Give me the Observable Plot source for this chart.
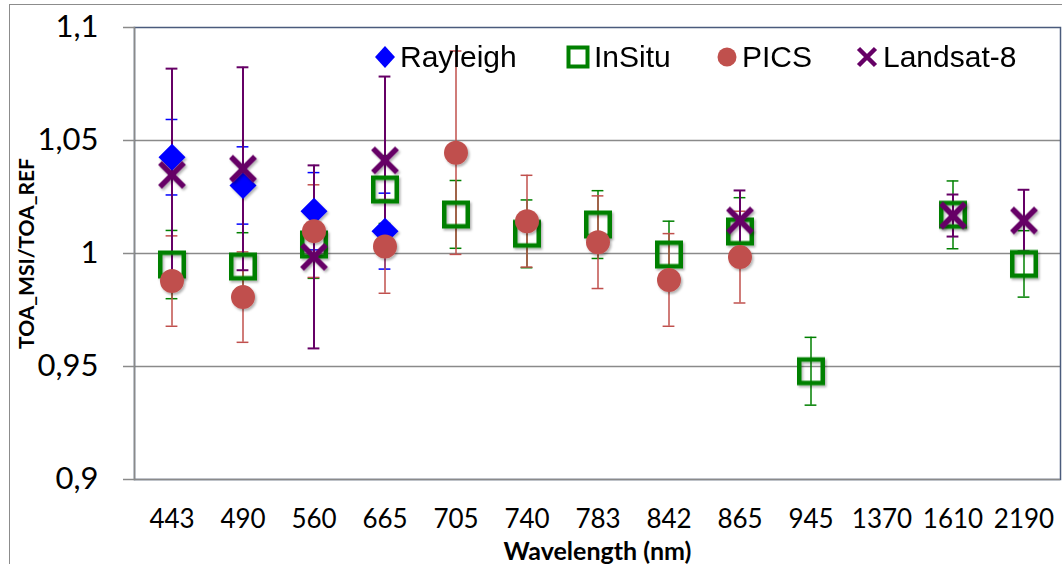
<!DOCTYPE html>
<html><head><meta charset="utf-8">
<script src="https://cdn.jsdelivr.net/npm/d3@7"></script>
<script src="https://cdn.jsdelivr.net/npm/@observablehq/plot@0.6"></script>
<style>
body{margin:0;background:#fff;}
#wrap{position:relative;width:1062px;height:564px;overflow:hidden;background:#fff;}
#border{position:absolute;left:9px;top:4px;width:2000px;height:2000px;border-left:1px solid #8c8c8c;border-top:1px solid #8c8c8c;pointer-events:none;}
#legend{position:absolute;top:0;left:0;font-family:"Liberation Sans",Arial,sans-serif;font-size:30px;color:#000;}
.item{position:absolute;top:40px;height:34px;line-height:34px;display:flex;align-items:center;white-space:nowrap;}
.item svg{margin-right:4px;}
g[aria-label="y-axis label"] text, g[aria-label="x-axis label"] text{font-weight:bold;}
g[aria-label="y-axis label"] text{font-size:21px;}
g[aria-label="x-axis label"] text{font-size:25px;}
</style></head>
<body>
<div id="wrap"><div id="chart"></div><div id="border"></div><div id="legend"></div></div>
<script>
const categories = ["443","490","560","665","705","740","783","842","865","945","1370","1610","2190"];
const yTicks = [0.9, 0.95, 1, 1.05, 1.1];

const rayleighBands = ["443","490","560","665"];
const rayleighValues = [1.0426, 1.0301, 1.0187, 1.0099];
const rayleighErrors = [0.0167, 0.0171, 0.0171, 0.0168];

const insituBands = ["443","490","560","665","705","740","783","842","865","945","1610","2190"];
const insituValues = [0.9951, 0.9942, 1.0040, 1.0283, 1.0173, 1.0087, 1.0128, 0.9996, 1.0097, 0.9479, 1.0171, 0.9954];
const insituErrors = [0.0151, 0.0150, 0.0150, 0.0150, 0.0150, 0.0150, 0.0150, 0.0147, 0.0150, 0.0150, 0.0150, 0.0147];

const picsBands = ["443","490","560","665","705","740","783","842","865"];
const picsValues = [0.9878, 0.9807, 1.0099, 1.0031, 1.0446, 1.0143, 1.0050, 0.9883, 0.9984];
const picsErrors = [0.0200, 0.0200, 0.0205, 0.0207, 0.0450, 0.0203, 0.0205, 0.0205, 0.0203];

const landsatBands = ["443","490","560","665","865","1610","2190"];
const landsatValues = [1.0348, 1.0375, 0.9985, 1.0412, 1.0146, 1.0168, 1.0146];
const landsatErrors = [0.0470, 0.0449, 0.0405, 0.0371, 0.0133, 0.0093, 0.0136];

const series = [
  {name:"Rayleigh", color:"#0000ff", ew:1.5, bands:rayleighBands, values:rayleighValues, errors:rayleighErrors},
  {name:"InSitu", color:"#008000", ew:1.5, bands:insituBands, values:insituValues, errors:insituErrors},
  {name:"PICS", color:"#c0504d", ew:1.5, bands:picsBands, values:picsValues, errors:picsErrors},
  {name:"Landsat-8", color:"#660066", ew:2, bands:landsatBands, values:landsatValues, errors:landsatErrors}
];
const rows = series.map(s => s.bands.map((b, i) => ({band:b, value:s.values[i], err:s.errors[i]})));

const fmt = d => String(d).replace(".", ",");
const capInset = 29.6;

const errMarks = series.flatMap((s, k) => [
  Plot.ruleX(rows[k], {x:"band", y1:d => d.value - d.err, y2:d => d.value + d.err, stroke:s.color, strokeWidth:s.ew}),
  Plot.tickY(rows[k], {x:"band", y:d => d.value + d.err, stroke:s.color, strokeWidth:s.ew, inset:capInset}),
  Plot.tickY(rows[k], {x:"band", y:d => d.value - d.err, stroke:s.color, strokeWidth:s.ew, inset:capInset})
]);

const dotMarks = [
  Plot.dot(rows[0], {x:"band", y:"value", symbol:"diamond2", r:12.16, fill:series[0].color, stroke:"none"}),
  Plot.dot(rows[1], {x:"band", y:"value", symbol:"square", r:13.26, fill:"none", stroke:series[1].color, strokeWidth:4.5}),
  Plot.dot(rows[2], {x:"band", y:"value", symbol:"circle", r:12, fill:series[2].color, stroke:"none"}),
  Plot.dot(rows[3], {x:"band", y:"value", symbol:"times", r:10.96, fill:"none", stroke:series[3].color, strokeWidth:5.5, strokeLinecap:"butt"})
];

const plot = Plot.plot({
  width: 1062, height: 564,
  marginLeft: 134, marginRight: 2, marginTop: 27, marginBottom: 85,
  x: {type:"band", domain:categories, padding:0},
  y: {domain:[0.9, 1.1]},
  style: {fontFamily:"Lato, sans-serif", background:"transparent", color:"#000"},
  marks: [
    Plot.gridY([0.95, 1, 1.05], {stroke:"#8a8a8a", strokeOpacity:1, strokeWidth:1.5}),
    Plot.frame({stroke:"#4a5b7c", strokeWidth:1.5}),
    Plot.ruleY([0.9], {stroke:"#8a8a8a", strokeWidth:1.5}),
    Plot.frame({anchor:"left", stroke:"#8a8a8a", strokeWidth:1.5}),
    Plot.axisY(yTicks, {tickSize:11, tickPadding:25, tickFormat:fmt, fontSize:31, stroke:"#8a8a8a", strokeWidth:1.5,
      label:"TOA_MSI/TOA_REF", labelAnchor:"center", labelArrow:"none", labelOffset:115}),
    Plot.axisX({tickSize:0, tickPadding:30, fontSize:26,
      label:"Wavelength (nm)", labelAnchor:"center", labelArrow:"none", labelOffset:80}),
    ...errMarks,
    ...dotMarks
  ]
});
document.getElementById("chart").appendChild(plot);

// subtle drop shadow like the original markers
const svg = d3.select(plot);
const defs = svg.insert("defs", ":first-child");
defs.append("filter").attr("id", "shadow").attr("x", "-50%").attr("y", "-50%").attr("width", "200%").attr("height", "200%")
  .append("feDropShadow").attr("dx", 1.5).attr("dy", 2).attr("stdDeviation", 1.2).attr("flood-color", "#000").attr("flood-opacity", 0.3);
svg.selectAll('g[aria-label="dot"]').attr("filter", "url(#shadow)");

// legend
const legend = d3.select("#legend");
const legendLeft = [374, 566, 716, 855];
const glyph = [
  '<svg width="22" height="24" viewBox="-11 -12 22 24"><path d="M0,-11L10,0L0,11L-10,0Z" fill="#0000ff"/></svg>',
  '<svg width="24" height="24" viewBox="-12 -12 24 24"><rect x="-9.5" y="-9.5" width="19" height="19" fill="none" stroke="#008000" stroke-width="4"/></svg>',
  '<svg width="22" height="24" viewBox="-11 -12 22 24"><circle r="9.5" fill="#c0504d"/></svg>',
  '<svg width="24" height="24" viewBox="-12 -12 24 24"><path d="M-8.5,-8.5L8.5,8.5M-8.5,8.5L8.5,-8.5" stroke="#660066" stroke-width="4.5" fill="none"/></svg>'
];
series.forEach((s, i) => {
  legend.append("div").attr("class", "item").style("left", legendLeft[i] + "px")
    .html(glyph[i] + "<span>" + s.name + "</span>");
});
</script>
</body></html>
